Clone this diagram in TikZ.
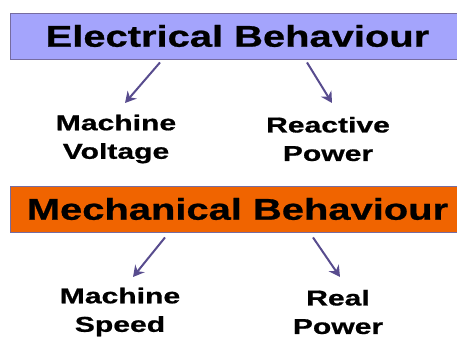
\documentclass[tikz,border=0pt]{standalone}
\usepackage{fontspec}
\setmainfont{Liberation Sans}
\newfontfamily\bannerfont[FakeStretch=1.33,FakeBold=0.8]{Liberation Sans}
\newfontfamily\quantityfont[FakeStretch=1.40,FakeBold=0.8]{Liberation Sans}
\usetikzlibrary{arrows.meta,calc,positioning}
\definecolor{elecblue}{RGB}{164,164,252}
\definecolor{mechorange}{RGB}{240,100,0}
\definecolor{boxedge}{RGB}{118,108,160}
\definecolor{arrowviolet}{RGB}{88,76,142}
\tikzset{
  banner/.style={draw=boxedge,line width=0.9pt,minimum width=455pt,minimum height=46pt,
                 inner sep=0pt,font=\bannerfont\fontsize{30}{33}\selectfont\bfseries},
  quantity/.style={align=center,inner sep=0pt,font=\quantityfont\fontsize{21.5}{28.5}\selectfont\bfseries},
  link/.style={arrowviolet,line width=2pt,-{Stealth[length=11pt,width=12pt]}},
}
\begin{document}
\begin{tikzpicture}[x=1pt,y=-1pt]
  \path[use as bounding box] (0,0) rectangle (457,337);

  \node[banner,fill=elecblue] (elec) at (237.5,36) {Electrical Behaviour};
  \node[quantity] (volt) at (116,139) {Machine\\Voltage};
  \node[quantity] (react) at (328,139) {Reactive\\Power};
  \draw[link] ([xshift=-77.5pt,yshift=-3pt]elec.south) -- ([xshift=9pt,yshift=36pt]volt.center);
  \draw[link] ([xshift=69.5pt,yshift=-3pt]elec.south) -- ([xshift=4pt,yshift=36pt]react.center);

  \node[banner,fill=mechorange] (mech) at (237.5,209) {Mechanical Behaviour};
  \node[quantity] (speed) at (120,312) {Machine\\Speed};
  \node[quantity] (real) at (338,312) {Real\\Power};
  \draw[link] ([xshift=-72.5pt,yshift=-5pt]mech.south) -- ([xshift=13pt,yshift=35pt]speed.center);
  \draw[link] ([xshift=75.5pt,yshift=-5pt]mech.south) -- ([xshift=2pt,yshift=35pt]real.center);
\end{tikzpicture}
\end{document}
